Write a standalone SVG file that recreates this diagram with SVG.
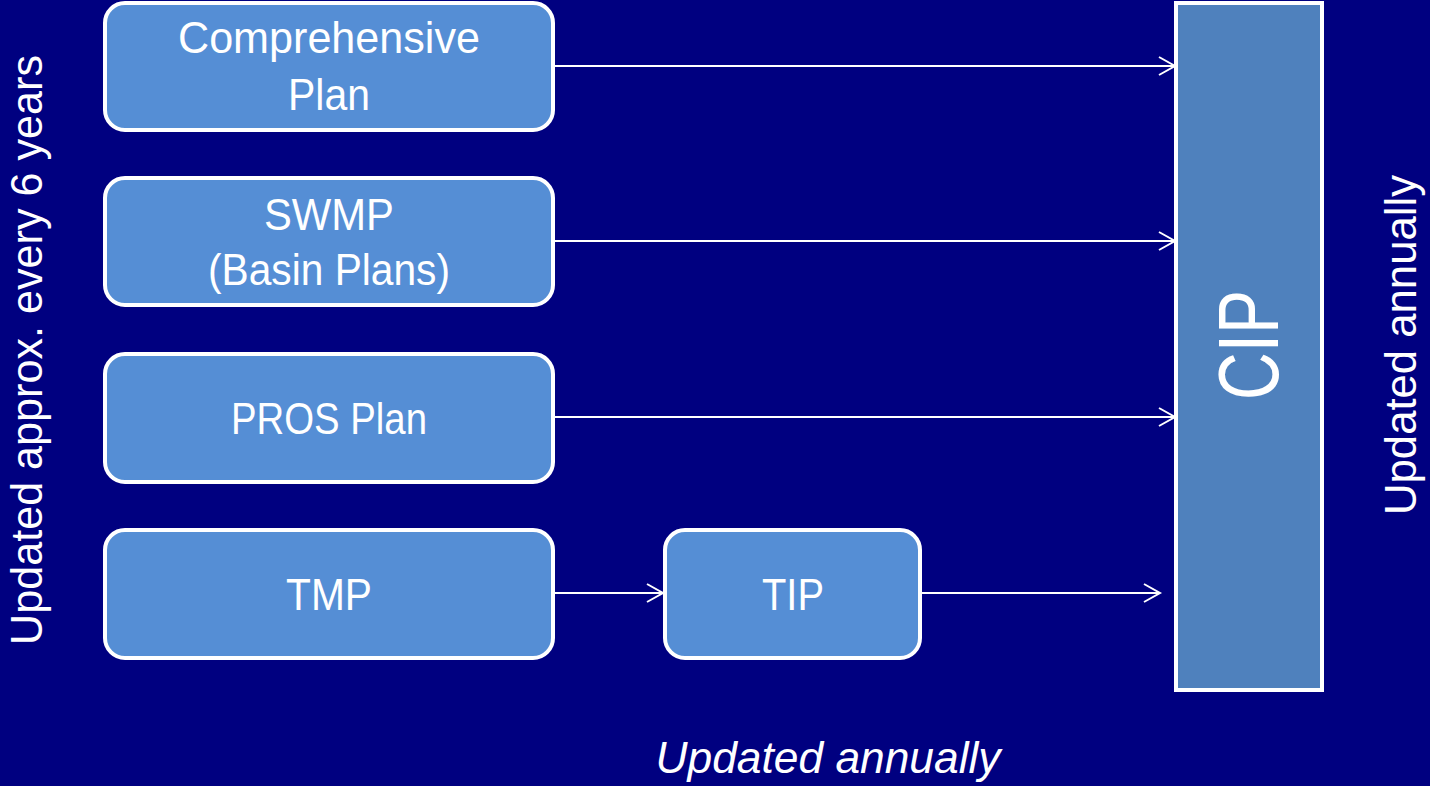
<svg xmlns="http://www.w3.org/2000/svg" width="1430" height="786" viewBox="0 0 1430 786">
<style>
.node{fill:#558ED5;stroke:#fff;stroke-width:4}
.lbl{font-family:"Liberation Sans","DejaVu Sans",sans-serif;fill:#fff;font-size:44px;text-anchor:middle}
.side{font-family:"Liberation Sans","DejaVu Sans",sans-serif;fill:#fff;font-size:44px;text-anchor:middle}
.conn{stroke:#fff;stroke-width:2;fill:none;marker-end:url(#arr)}
</style>
<defs>
<marker id="arr" markerWidth="24" markerHeight="24" refX="20" refY="12" orient="auto" markerUnits="userSpaceOnUse">
<path d="M4,3 L20,12 L4,21" fill="none" stroke="#fff" stroke-width="2"/>
</marker>
</defs>
<rect width="1430" height="786" fill="#000080"/>
<g id="connectors">
<line class="conn" x1="553" y1="66" x2="1175" y2="66"/>
<line class="conn" x1="553" y1="241" x2="1175" y2="241"/>
<line class="conn" x1="553" y1="417" x2="1175" y2="417"/>
<line class="conn" x1="553" y1="593" x2="663" y2="593"/>
<line class="conn" x1="920" y1="593" x2="1160" y2="593"/>
</g>
<g id="comprehensive">
<rect class="node" x="105" y="3" width="448" height="127" rx="20"/>
<text class="lbl" x="329" y="53" textLength="302" lengthAdjust="spacingAndGlyphs">Comprehensive</text>
<text class="lbl" x="329" y="110" textLength="82" lengthAdjust="spacingAndGlyphs">Plan</text>
</g>
<g id="swmp">
<rect class="node" x="105" y="178" width="448" height="127" rx="20"/>
<text class="lbl" x="329" y="230" textLength="130" lengthAdjust="spacingAndGlyphs">SWMP</text>
<text class="lbl" x="329" y="285" textLength="242" lengthAdjust="spacingAndGlyphs">(Basin Plans)</text>
</g>
<g id="pros">
<rect class="node" x="105" y="354" width="448" height="128" rx="20"/>
<text class="lbl" x="329" y="434" textLength="196" lengthAdjust="spacingAndGlyphs">PROS Plan</text>
</g>
<g id="tmp">
<rect class="node" x="105" y="530" width="448" height="128" rx="20"/>
<text class="lbl" x="329" y="610" textLength="86" lengthAdjust="spacingAndGlyphs">TMP</text>
</g>
<g id="tip">
<rect class="node" x="665" y="530" width="255" height="128" rx="20"/>
<text class="lbl" x="793" y="610" textLength="62" lengthAdjust="spacingAndGlyphs">TIP</text>
</g>
<g id="cip">
<rect x="1176" y="3" width="146" height="687" fill="#4F81BD" stroke="#fff" stroke-width="4"/>
<text class="lbl" transform="translate(1278,345) rotate(-90)" font-size="86" style="font-size:86px" textLength="110" lengthAdjust="spacingAndGlyphs">CIP</text>
</g>
<g id="labels">
<text class="side" transform="translate(42,350) rotate(-90)" textLength="590" lengthAdjust="spacingAndGlyphs">Updated approx. every 6 years</text>
<text class="side" transform="translate(1416,345) rotate(-90)" textLength="340" lengthAdjust="spacingAndGlyphs">Updated annually</text>
<text class="side" x="828" y="773" font-style="italic" textLength="345" lengthAdjust="spacingAndGlyphs">Updated annually</text>
</g>
</svg>
